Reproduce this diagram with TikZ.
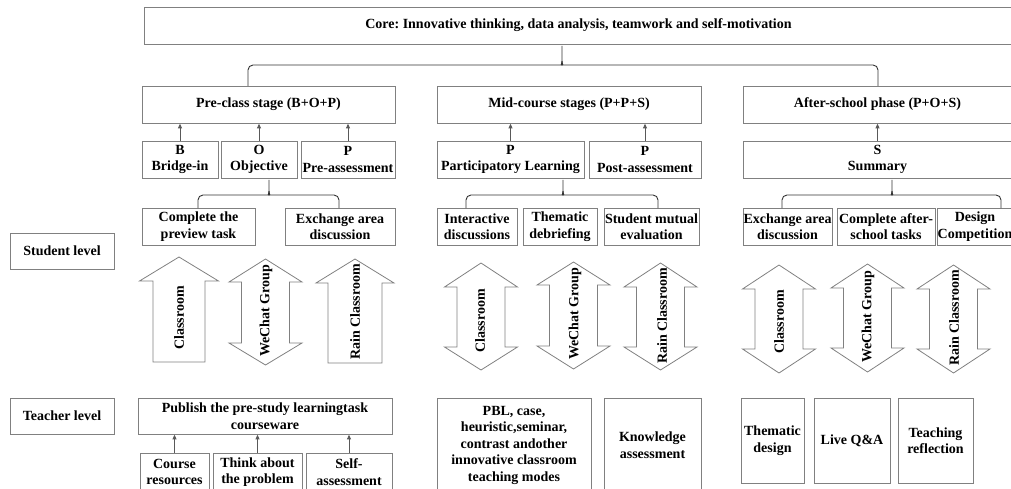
\documentclass[tikz,border=0pt]{standalone}
\usepackage{fontspec}
\setmainfont{Liberation Serif}
\usetikzlibrary{arrows.meta}
\frenchspacing
\newcommand\mybox[6]{\node[box,minimum width={(#4-#2)*1pt},minimum height={(#5-#3)*1pt}] (#1) at ({(#2+#4)/2},{(#3+#5)/2}) {#6};}
% name, cx, ty, hb, hw, sw, by, ytext, label
\newcommand\singlearrow[9]{%
  \draw[bigarrow] (#2,#3) -- ({#2+#5},#4) -- ({#2+#6},#4) -- ({#2+#6},#7) -- ({#2-#6},#7) -- ({#2-#6},#4) -- ({#2-#5},#4) -- cycle;
  \node[arrtext] (#1) at (#2,#8) {#9};}
% name, cx, ty, hb, lb, bt, xtext, ytext, label
\newcommand\doublearrow[9]{%
  \draw[bigarrow] (#2,#3) -- ({#2+36.5},#4) -- ({#2+24},#4) -- ({#2+24},#5) -- ({#2+36.5},#5) -- (#2,#6) -- ({#2-36.5},#5) -- ({#2-24},#5) -- ({#2-24},#4) -- ({#2-36.5},#4) -- cycle;
  \node[arrtext] (#1) at (#7,#8) {#9};}
% L, R, T, liney, endy, tipy
\newcommand\mybrace[6]{%
  \draw[brace] (#1,#5) [rounded corners=5pt] -- (#1,#4) -- ({#3-5},#4) [sharp corners] .. controls ({#3-1.5},#4) and (#3,{#4-1}) .. (#3,{#4-4}) -- (#3,#6);
  \draw[brace] (#2,#5) [rounded corners=5pt] -- (#2,#4) -- ({#3+5},#4) [sharp corners] .. controls ({#3+1.5},#4) and (#3,{#4-1}) .. (#3,{#4-4});}
\begin{document}
\begin{tikzpicture}[x=1pt,y=-1pt,
  box/.style={draw=black!50,line width=0.8pt,inner sep=0pt,align=center,font=\fontsize{14}{16.5}\selectfont\bfseries},
  bigarrow/.style={draw=black!50,line width=0.8pt,line join=miter},
  arrtext/.style={rotate=90,inner sep=0pt,font=\fontsize{14}{16.5}\selectfont\bfseries},
  brace/.style={draw=black!80,line width=0.9pt},
  sarr/.style={draw=black!65,line width=0.7pt,-{Triangle[length=4.5pt,width=4pt]},shorten >=0.4pt}]
\useasboundingbox (0,0) rectangle (1011,489);
\mybox{core}{144}{7}{1013}{44}{Core: Innovative thinking, data analysis, teamwork and self-motivation}
\mybox{pre}{142}{86}{395}{123}{Pre-class stage (B+O+P)}
\mybox{mid}{437}{86}{701}{123}{Mid-course stages (P+P+S)}
\mybox{after}{743}{86}{1012}{123}{After-school phase (P+O+S)}
\mybox{b}{142}{141}{218}{178}{B\\Bridge-in}
\mybox{o}{221}{141}{297}{178}{O\\Objective}
\mybox{p1}{301}{141}{395}{178}{P\\Pre-assessment}
\mybox{p2}{437}{141}{584}{178}{P\\Participatory Learning}
\mybox{p3}{589}{141}{701}{178}{P\\Post-assessment}
\mybox{s}{743}{141}{1012}{178}{S\\Summary}
\mybox{st1}{142}{208}{255}{245}{Complete the\\preview task}
\mybox{st2}{285}{208}{395}{245}{Exchange area\\discussion}
\mybox{st3}{437}{208}{517}{245}{Interactive\\discussions}
\mybox{st4}{523}{208}{597}{245}{Thematic\\debriefing}
\mybox{st5}{604}{208}{699}{245}{Student mutual\\evaluation}
\mybox{st6}{743}{208}{832}{245}{Exchange area\\discussion}
\mybox{st7}{837}{208}{935}{245}{Complete after-\\school tasks}
\mybox{st8}{938}{208}{1012}{245}{Design\\Competition}
\mybox{sl}{10}{233}{114}{269}{Student level}
\mybox{tl}{10}{398}{114}{434}{Teacher level}
\mybox{pub}{138}{398}{392}{434}{Publish the pre-study learningtask\\courseware}
\mybox{t1}{140}{453}{209}{491}{Course\\resources}
\mybox{t2}{213}{453}{302}{491}{Think about\\the problem}
\mybox{t3}{306}{453}{392}{491}{Self-\\assessment}
\mybox{pbl}{437}{398}{591}{492}{PBL, case,\\heuristic,seminar,\\contrast andother\\innovative classroom\\teaching modes}
\mybox{ka}{604}{398}{701}{492}{Knowledge\\assessment}
\mybox{td}{741}{398}{804}{483}{Thematic\\design}
\mybox{lqa}{814}{398}{890}{483}{Live Q\&A}
\mybox{tr}{898}{398}{973}{483}{Teaching\\reflection}
% small arrows
\foreach \n/\m in {b/pre,o/pre,p1/pre,p2/mid,p3/mid,s/after,t1/pub,t2/pub,t3/pub}
  \draw[sarr] (\n.north) -- (\n.north |- \m.south);
% braces
\mybrace{248}{878}{562}{65}{86}{46}
\mybrace{198}{339}{269}{195}{208}{180}
\mybrace{466}{658}{563}{195}{208}{180}
\mybrace{782}{1001}{892}{195}{208}{180}
% big arrows
\singlearrow{a1}{179}{257}{281}{39.5}{26}{362}{318}{Classroom}
\doublearrow{a2}{265.5}{259}{282}{343}{365}{266}{311}{WeChat Group}
\singlearrow{a3}{355}{259}{283}{39}{27}{363}{312}{Rain Classroom}
\doublearrow{a4}{481}{263}{287}{347}{370}{480}{321}{Classroom}
\doublearrow{a5}{573.5}{262}{285}{346}{369}{575}{314}{WeChat Group}
\doublearrow{a6}{660.5}{263}{287}{347}{370}{662}{316}{Rain Classroom}
\doublearrow{a7}{779}{265}{289}{349}{373}{779}{322}{Classroom}
\doublearrow{a8}{867.5}{264}{288}{348}{372}{868}{317}{WeChat Group}
\doublearrow{a9}{953.5}{265}{289}{349}{373}{954}{318}{Rain Classroom}
\end{tikzpicture}
\end{document}
